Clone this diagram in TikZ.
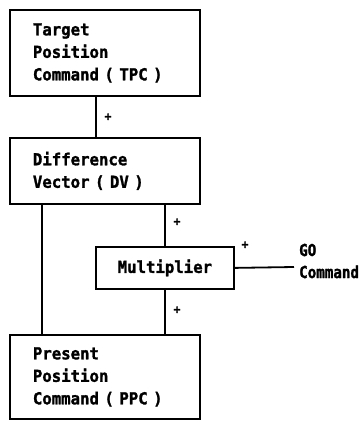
\documentclass[tikz,border=0pt]{standalone}
\usepackage{fontspec}
\newfontfamily\boxfont[FakeStretch=0.95,FakeBold=1.5]{DejaVu Sans Mono Bold}
\newfontfamily\sidefont[FakeStretch=0.86,FakeBold=1.5]{DejaVu Sans Mono Bold}
\tikzset{
  blk/.style={draw, line width=1.8pt, anchor=north west, inner ysep=0pt,
    font=\boxfont\fontsize{16.5}{22.5}\selectfont},
  wide/.style={blk, minimum width=190pt, text width=144pt, inner xsep=23pt, align=left},
  wire/.style={line width=1.8pt},
  sign/.style={inner sep=0pt, font=\boxfont\fontsize{12}{12}\selectfont},
  lbl/.style={inner sep=0pt, font=\sidefont\fontsize{16.5}{22}\selectfont}
}
\begin{document}
\begin{tikzpicture}[x=1pt,y=-1pt]
\useasboundingbox (0,0) rectangle (363,421);
% blocks
\node[wide, minimum height=86pt] (tpc) at (9,9) {Target\\Position\\Command ( TPC )};
\node[wide, minimum height=66pt] (dv) at (9,137) {Difference\\Vector ( DV )};
\node[blk, minimum width=138pt, minimum height=42pt, inner xsep=0pt] (mult) at (95,246) {Multiplier};
\node[wide, minimum height=84pt] (ppc) at (9,334) {Present\\Position\\Command ( PPC )};
\node[lbl, anchor=west, align=left] (go) at (299,261) {GO\\Command};
% connections
\draw[wire] ([xshift=87pt]tpc.south west) -- ([xshift=87pt]dv.north west);
\draw[wire] ([xshift=33pt]dv.south west) -- ([xshift=33pt]ppc.north west);
\draw[wire] (mult.north |- dv.south) -- (mult.north);
\draw[wire] (mult.south) -- (mult.south |- ppc.north);
\draw[wire] (mult.east) -- (294,267);
% signs
\node[sign] (s1) at (108,117) {+};
\node[sign] (s2) at (177,222) {+};
\node[sign] (s3) at (245,245) {+};
\node[sign] (s4) at (177,310) {+};
\end{tikzpicture}
\end{document}
